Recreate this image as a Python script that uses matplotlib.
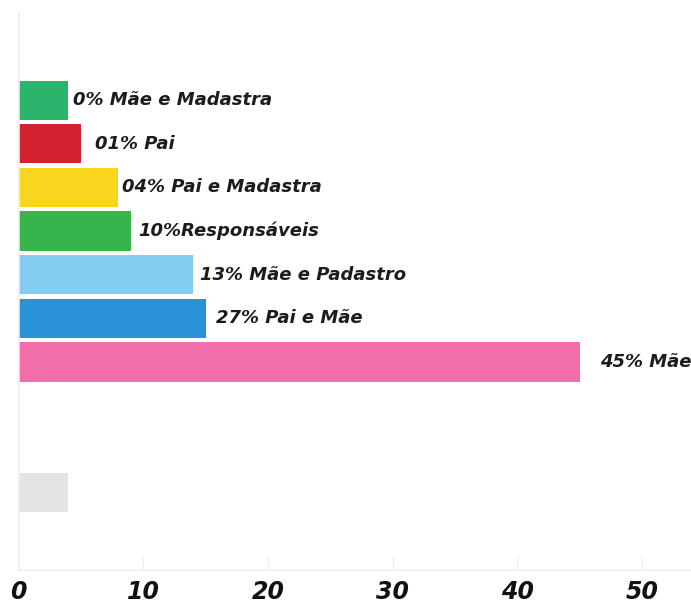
import matplotlib
matplotlib.use("Agg")
import matplotlib.pyplot as plt

# ---- data ----
labels = ["0% Mãe e Madastra", "01% Pai", "04% Pai e Madastra", "10%Responsáveis",
          "13% Mãe e Padastro", "27% Pai e Mãe", "45% Mãe", "", "", ""]
values = [4, 5, 8, 9, 14, 15, 45, 0, 0, 4]
colors = ["#2bb56c", "#d3222f", "#fad51e", "#37b44a", "#85cdf0", "#2a93d8",
          "#f16ea9", "#ffffff", "#ffffff", "#e5e4e4"]
xticks = [0, 10, 20, 30, 40, 50]

# label gaps (pixels) after each bar end
label_gaps = [5, 14, 4, 7, 7, 10, 20, 0, 0, 0]

plt.rcParams['font.family'] = ['DejaVu Sans']

fig = plt.figure(figsize=(6.91, 6.05), dpi=100)
W, H = 691, 605
ax_left, ax_right = 18.5 / W, 1.0
ax_top, ax_bottom = 1 - 13 / H, 1 - 570 / H
ax = fig.add_axes([ax_left, ax_bottom, ax_right - ax_left, ax_top - ax_bottom])

pos = list(range(len(values)))
ax.barh(pos, values, height=0.9, color=colors)
ax.set_ylim(10.77, -2.0)
ax.set_xlim(0, (W - 18.5) / 12.47)

for p, v, lab, g in zip(pos, values, labels, label_gaps):
    if lab:
        ax.annotate(lab, xy=(v, p), xytext=(g * 0.72, 0), textcoords="offset points",
                    ha="left", va="center", fontsize=13, fontweight="bold",
                    fontstyle="oblique", color="#1c1c1c", annotation_clip=False)

ax.set_xticks(xticks)
ax.set_xticklabels([str(t) for t in xticks], fontsize=17, fontweight="bold",
                   fontstyle="oblique", color="#111111")
ax.tick_params(axis="x", direction="in", length=10, width=0.8, color="#eeeeee", pad=7)
ax.set_yticks([])
for s in ["top", "right"]:
    ax.spines[s].set_visible(False)
for s in ["left", "bottom"]:
    ax.spines[s].set_color("#eeeeee")
    ax.spines[s].set_linewidth(1.2)

fig.savefig("out.png", dpi=100, facecolor="white")
